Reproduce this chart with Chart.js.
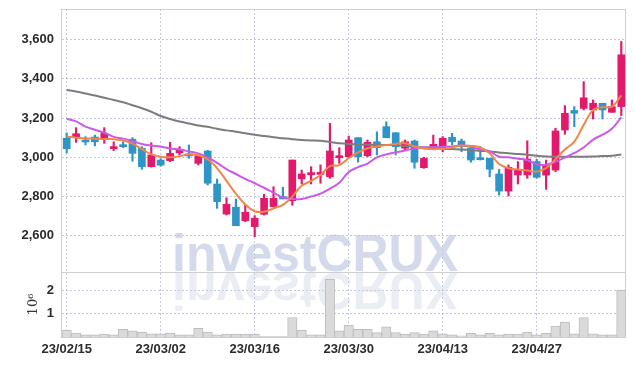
<!DOCTYPE html>
<html>
<head>
<meta charset="utf-8">
<script src="https://cdn.jsdelivr.net/npm/chart.js@4"></script>
<style>
    html, body { margin: 0; padding: 0; background: #fff; }
</style>
</head>
<body>
<canvas id="chart" width="634" height="366"></canvas>
<script>
const dates = [
    "23/02/15", "23/02/16", "23/02/17", "23/02/20", "23/02/21", "23/02/22", "23/02/23", "23/02/24", "23/02/27", "23/02/28",
    "23/03/02", "23/03/03", "23/03/06", "23/03/07", "23/03/08", "23/03/09", "23/03/10", "23/03/13", "23/03/14", "23/03/15",
    "23/03/16", "23/03/17", "23/03/20", "23/03/21", "23/03/22", "23/03/23", "23/03/24", "23/03/27", "23/03/28", "23/03/29",
    "23/03/30", "23/03/31", "23/04/03", "23/04/04", "23/04/05", "23/04/06", "23/04/07", "23/04/10", "23/04/11", "23/04/12",
    "23/04/13", "23/04/14", "23/04/17", "23/04/18", "23/04/19", "23/04/20", "23/04/21", "23/04/24", "23/04/25", "23/04/26",
    "23/04/27", "23/04/28", "23/05/02", "23/05/03", "23/05/04", "23/05/08", "23/05/09", "23/05/10", "23/05/11", "23/05/12"
];
const opens = [
    3097, 3100, 3088, 3103, 3100, 3044, 3064, 3092, 3046, 2952,
    2986, 2983, 3023, 3015, 2969, 3032, 2864, 2711, 2746, 2677,
    2647, 2710, 2749, 2800, 2779, 2890, 2911, 2913, 2901, 2998,
    3003, 3100, 3008, 3079, 3156, 3125, 3046, 3083, 2947, 3046,
    3049, 3102, 3083, 3046, 2992, 2995, 2915, 2828, 2910, 2910,
    2978, 2909, 2935, 3139, 3238, 3249, 3241, 3275, 3229, 3258
];
const highs = [
    3124, 3151, 3105, 3113, 3151, 3079, 3079, 3100, 3054, 3074,
    2993, 3076, 3054, 3063, 3010, 3035, 2889, 2794, 2787, 2756,
    2703, 2812, 2850, 2847, 2986, 2935, 2952, 2961, 3173, 3049,
    3108, 3100, 3088, 3130, 3181, 3125, 3088, 3088, 3000, 3113,
    3105, 3122, 3093, 3054, 3054, 2995, 2939, 2961, 2978, 3084,
    2990, 2986, 3148, 3263, 3258, 3385, 3292, 3275, 3292, 3590
];
const lows = [
    3022, 3076, 3063, 3058, 3071, 3034, 3049, 2980, 2939, 2950,
    2955, 2978, 3012, 2995, 2961, 2859, 2740, 2706, 2652, 2672,
    2596, 2706, 2746, 2788, 2756, 2864, 2864, 2868, 2893, 2969,
    3000, 2975, 3003, 3012, 3100, 3012, 3037, 2944, 2944, 3041,
    3028, 3063, 3028, 2975, 2986, 2901, 2808, 2803, 2864, 2893,
    2893, 2837, 2927, 3117, 3156, 3241, 3195, 3195, 3229, 3213
];
const closes = [
    3044, 3120, 3078, 3079, 3122, 3054, 3054, 3020, 2952, 3012,
    2960, 3020, 3041, 3007, 3008, 2868, 2774, 2761, 2652, 2720,
    2690, 2791, 2791, 2788, 2986, 2915, 2922, 2924, 3032, 3008,
    3088, 3003, 3076, 3049, 3100, 3054, 3079, 2975, 2995, 3066,
    3097, 3079, 3054, 2986, 2988, 2939, 2828, 2949, 2939, 2991,
    2898, 2961, 3134, 3224, 3224, 3303, 3275, 3241, 3258, 3522
];
const ma5 = [
    3105, 3100, 3097, 3095, 3093, 3092, 3085, 3070, 3042, 3015,
    3003, 3000, 3005, 3015, 3010, 2990, 2945, 2880, 2815, 2760,
    2725, 2723, 2740, 2758, 2800, 2855, 2880, 2910, 2955, 2960,
    2995, 3025, 3046, 3055, 3063, 3068, 3072, 3055, 3045, 3041,
    3044, 3050, 3060, 3058, 3050, 3020, 2966, 2944, 2938, 2933,
    2927, 2945, 2990, 3040, 3080, 3165, 3241, 3255, 3258, 3315
];
const ma20 = [
    3195, 3183, 3156, 3140, 3125, 3104, 3095, 3082, 3068, 3060,
    3054, 3045, 3040, 3030, 3020, 3000, 2972, 2940, 2915, 2890,
    2868, 2845, 2820, 2795, 2788, 2788, 2800, 2815, 2840, 2870,
    2925, 2950, 2968, 3000, 3015, 3025, 3035, 3045, 3050, 3052,
    3054, 3055, 3060, 3052, 3040, 3030, 3003, 3000, 2993, 2985,
    2965, 2962, 2978, 2998, 3022, 3050, 3090, 3115, 3145, 3205
];
const ma60 = [
    3343, 3335, 3325, 3315, 3303, 3292, 3280, 3265, 3250, 3232,
    3210, 3195, 3182, 3172, 3162, 3155, 3145, 3137, 3130, 3122,
    3115, 3108, 3102, 3097, 3092, 3088, 3086, 3084, 3078, 3072,
    3068, 3065, 3064, 3063, 3063, 3062, 3058, 3053, 3050, 3047,
    3044, 3042, 3040, 3037, 3033, 3030, 3025, 3020, 3017, 3013,
    3008, 3004, 3003, 3003, 3003, 3003, 3004, 3006, 3008, 3014
];
// volume in millions of shares
const volumes = [
    0.30, 0.17, 0.09, 0.09, 0.12, 0.09, 0.33, 0.26, 0.21, 0.14,
    0.14, 0.17, 0.09, 0.09, 0.37, 0.21, 0.09, 0.12, 0.12, 0.12,
    0.12, 0.02, 0.02, 0.02, 0.83, 0.29, 0.09, 0.09, 2.47, 0.26,
    0.51, 0.33, 0.33, 0.19, 0.43, 0.19, 0.12, 0.19, 0.12, 0.26,
    0.14, 0.09, 0.05, 0.16, 0.09, 0.16, 0.09, 0.12, 0.12, 0.21,
    0.09, 0.16, 0.47, 0.64, 0.14, 0.83, 0.14, 0.09, 0.09, 2.00
];
const price_ticks = [2600, 2800, 3000, 3200, 3400, 3600];
const volume_ticks = [1, 2];

const up_color = "#e3196b";
const down_color = "#2f95c6";
const candle_colors = closes.map((c, i) => c >= opens[i] ? up_color : down_color);

const grid_color = "rgba(150,155,195,0.55)";
const tick_font = { family: "'Liberation Sans', Arial, sans-serif", size: 13, weight: "bold" };

// y axes: fixed width, no extra top/bottom padding from labels
function fit_y(s) {
    s.width = 62;
    s.paddingTop = 0;
    s.paddingBottom = 0;
}

// watermark + panel frame
const frame_plugin = {
    id: "frame",
    beforeDatasetsDraw(chart) {
        const { ctx, chartArea } = chart;
        const vol = chart.scales.yv;
        ctx.save();
        ctx.font = "bold 52px 'Liberation Sans', Arial, sans-serif";
        ctx.textBaseline = "alphabetic";
        ctx.fillStyle = "rgba(186,195,225,0.62)";
        ctx.fillText("investCRUX", 172, vol.top - 1, 286);
        ctx.beginPath();
        ctx.rect(chartArea.left, vol.top, chartArea.right - chartArea.left, vol.bottom - vol.top);
        ctx.clip();
        ctx.translate(0, 2 * vol.top + 2);
        ctx.scale(1, -1);
        ctx.fillStyle = "rgba(205,210,230,0.4)";
        ctx.fillText("investCRUX", 172, vol.top + 1, 286);
        ctx.restore();

        ctx.save();
        ctx.strokeStyle = "#cfcfcf";
        ctx.lineWidth = 1;
        ctx.strokeRect(chartArea.left - 0.5, chartArea.top + 0.5, chartArea.right - chartArea.left, chartArea.bottom - chartArea.top);
        ctx.beginPath();
        ctx.moveTo(chartArea.left, Math.round(vol.top) + 0.5);
        ctx.lineTo(chartArea.right, Math.round(vol.top) + 0.5);
        ctx.stroke();
        ctx.restore();
    }
};

const ctx = document.getElementById("chart").getContext("2d");
const chart = new Chart(ctx, {
    type: "bar",
    data: {
        labels: dates,
        datasets: [
            { type: "line", data: ma5, yAxisID: "y", borderColor: "#f0864a", borderWidth: 2, pointRadius: 0, tension: 0.4, order: 0 },
            { type: "line", data: ma20, yAxisID: "y", borderColor: "#cc58ea", borderWidth: 2, pointRadius: 0, tension: 0.4, order: 0 },
            { type: "line", data: ma60, yAxisID: "y", borderColor: "#7c7c7c", borderWidth: 2, pointRadius: 0, tension: 0.4, order: 0 },
            {
                data: opens.map((o, i) => [o, closes[i]]), yAxisID: "y",
                backgroundColor: candle_colors, barThickness: 7, minBarLength: 2, grouped: false, order: 1
            },
            {
                data: lows.map((l, i) => [l, highs[i]]), yAxisID: "y",
                backgroundColor: candle_colors, barThickness: 1.5, grouped: false, order: 2
            },
            {
                data: volumes, yAxisID: "yv",
                backgroundColor: "#dadada", borderColor: "#bdbdbd", borderWidth: 1,
                barPercentage: 1, categoryPercentage: 1, grouped: false, order: 3
            }
        ]
    },
    options: {
        responsive: false,
        animation: false,
        devicePixelRatio: 1,
        layout: { padding: { left: 0, right: 8, top: 9, bottom: 0 } },
        plugins: { legend: { display: false }, tooltip: { enabled: false } },
        scales: {
            x: {
                type: "category",
                offset: true,
                afterFit: (s) => { s.height = 29; },
                afterBuildTicks: (s) => { s.ticks = s.ticks.filter(t => t.value % 10 === 0); },
                grid: { color: grid_color, offset: false, drawTicks: false },
                border: { display: false, dash: [2, 2] },
                ticks: { autoSkip: false, maxRotation: 0, padding: 5, color: "#2b2b2b", font: tick_font }
            },
            y: {
                position: "left",
                stack: "panels",
                stackWeight: 263,
                weight: 2,
                min: 2416,
                max: 3755,
                afterFit: fit_y,
                afterBuildTicks: (s) => { s.ticks = price_ticks.map(v => ({ value: v })); },
                grid: { color: grid_color, drawTicks: false },
                border: { display: false, dash: [2, 2] },
                ticks: { padding: 8, color: "#2b2b2b", font: tick_font, callback: (v) => v.toLocaleString("en-US") }
            },
            yv: {
                position: "left",
                stack: "panels",
                stackWeight: 65,
                weight: 1,
                min: 0,
                max: 2.78,
                afterFit: fit_y,
                afterBuildTicks: (s) => { s.ticks = volume_ticks.map(v => ({ value: v })); },
                grid: { color: grid_color, drawTicks: false },
                border: { display: false, dash: [2, 2] },
                title: { display: true, text: "10⁶", color: "#333", padding: { top: 26, bottom: 0 }, font: { family: "'DejaVu Serif', serif", size: 13 } },
                ticks: { padding: 8, color: "#2b2b2b", font: tick_font }
            }
        }
    },
    plugins: [frame_plugin]
});
</script>
</body>
</html>
